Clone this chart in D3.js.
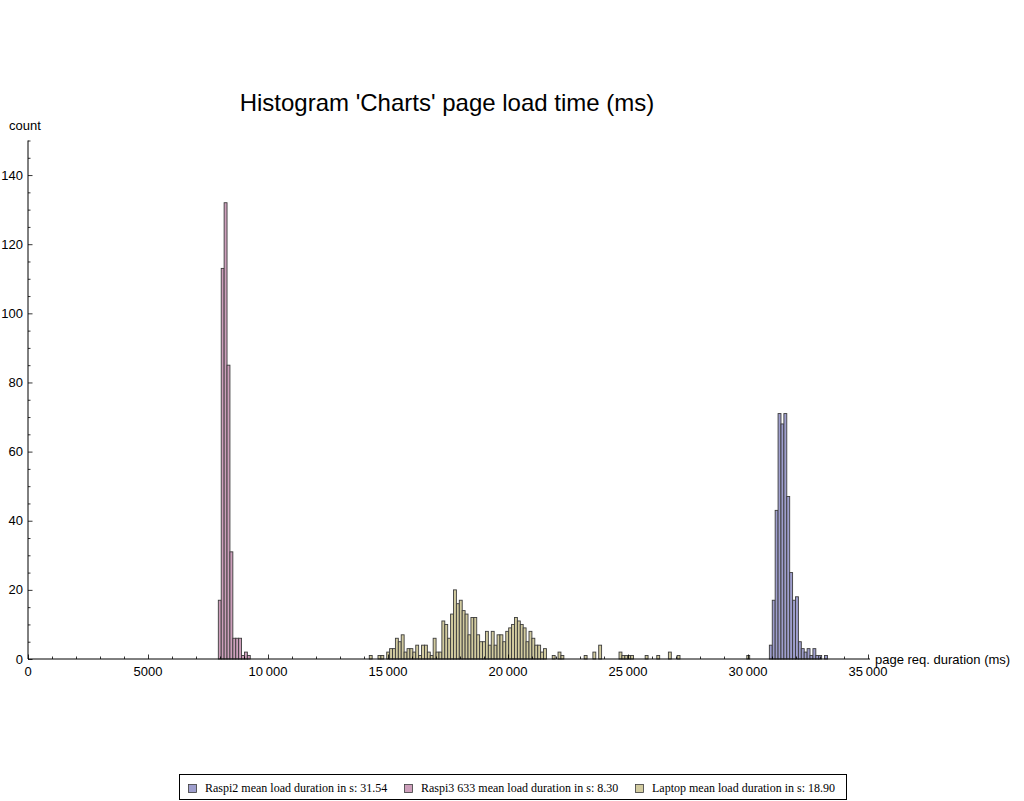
<!DOCTYPE html>
<html>
<head>
<meta charset="utf-8">
<script src="https://cdn.jsdelivr.net/npm/d3@7"></script>
<style>
  html, body { margin: 0; padding: 0; background: #ffffff; }
  #chart { width: 1024px; height: 801px; }
</style>
</head>
<body>
<div id="chart"></div>
<script>
// histogram of page load time, three devices, bins

const binWidth = 121; // ms

const seriesNames = [
  "Raspi2 mean load duration in s: 31.54",
  "Raspi3 633 mean load duration in s: 8.30",
  "Laptop mean load duration in s: 18.90"
];

const raspi2Start = 30890;
const raspi2Counts = [4, 17, 43, 71, 68, 71, 47, 25, 17, 18, 5, 3, 2, 3, 1, 3, 1, 1, 0, 1];

const raspi3Start = 7930;
const raspi3Counts = [17, 113, 132, 85, 31, 6, 6, 6, 1, 2, 1];

const laptopStart = 14220;
const laptopCounts = [
  1, 0, 0, 1, 1, 0, 2, 3, 3, 6,
  5, 7, 2, 3, 3, 2, 4, 1, 4, 4,
  2, 1, 6, 2, 2, 11, 10, 6, 13, 20,
  16, 17, 14, 13, 7, 12, 12, 7, 5, 5,
  8, 4, 8, 4, 7, 7, 5, 8, 9, 10,
  12, 11, 10, 9, 5, 8, 6, 4, 4, 2,
  3, 0, 0, 1, 0, 2, 1, 0, 0, 0,
  0, 0, 0, 0, 1, 0, 0, 2, 0, 4,
  0, 0, 0, 0, 0, 0, 2, 1, 1, 1,
  1, 0, 0, 0, 0, 1, 0, 0, 0, 1,
  0, 0, 0, 2, 0, 0, 1, 0, 0, 0,
  0, 0, 0, 0, 0, 0, 0, 0, 0, 0,
  0, 0, 0, 0, 0, 0, 0, 0, 0, 0,
  1
];

const xTickValues = [0, 5000, 10000, 15000, 20000, 25000, 30000, 35000];
const xTickLabels = ["0", "5000", "10\u2009000", "15\u2009000", "20\u2009000", "25\u2009000", "30\u2009000", "35\u2009000"];
const yTickValues = [0, 20, 40, 60, 80, 100, 120, 140];

const titleText = "Histogram 'Charts' page load time (ms)";
const xAxisLabel = "page req. duration (ms)";
const yAxisLabel = "count";

const colors = ["#9e9ecd", "#cd9fbb", "#d2cb9f"];
const edgeColor = "#3c3c3c";
const sansFont = "'Liberation Sans', Arial, sans-serif";
const serifFont = "'Liberation Serif', 'Times New Roman', serif";

const width = 1024, height = 801;

const svg = d3.select("#chart")
  .append("svg")
  .attr("width", width)
  .attr("height", height)
  .attr("viewBox", `0 0 ${width} ${height}`);

const x = d3.scaleLinear().domain([0, 35000]).range([28, 868]);
const y = d3.scaleLinear().domain([0, 150]).range([659, 140.5]);

function toBins(start, counts, idx) {
  return counts
    .map((c, i) => ({ x0: start + i * binWidth, x1: start + (i + 1) * binWidth, count: c, s: idx }))
    .filter(d => d.count > 0);
}

const allBins = [
  ...toBins(raspi2Start, raspi2Counts, 0),
  ...toBins(raspi3Start, raspi3Counts, 1),
  ...toBins(laptopStart, laptopCounts, 2)
];

// bars
svg.append("g")
  .selectAll("rect")
  .data(allBins)
  .join("rect")
  .attr("x", d => x(d.x0))
  .attr("y", d => y(d.count))
  .attr("width", d => x(d.x1) - x(d.x0))
  .attr("height", d => y(0) - y(d.count))
  .attr("fill", d => colors[d.s])
  .attr("stroke", edgeColor)
  .attr("stroke-width", 0.9);

// axes (ticks point inward like the original)
const xMinor = d3.range(0, 35001, 1000).filter(v => v % 5000 !== 0);
const yMinor = d3.range(0, 151, 5).filter(v => v % 20 !== 0);

const xAxisG = svg.append("g").attr("transform", `translate(0,${y(0)})`);
xAxisG.call(d3.axisTop(x).tickValues(xMinor).tickSize(2.5).tickFormat(""));
xAxisG.select(".domain").remove();
const xMajorG = svg.append("g").attr("transform", `translate(0,${y(0)})`);
xMajorG.call(d3.axisTop(x).tickValues(xTickValues).tickSize(4.5).tickFormat(""));
xMajorG.select(".domain").remove();

const yAxisG = svg.append("g").attr("transform", `translate(${x(0)},0)`);
yAxisG.call(d3.axisRight(y).tickValues(yMinor).tickSize(2.5).tickFormat(""));
yAxisG.select(".domain").remove();
const yMajorG = svg.append("g").attr("transform", `translate(${x(0)},0)`);
yMajorG.call(d3.axisRight(y).tickValues(yTickValues).tickSize(4.5).tickFormat(""));
yMajorG.select(".domain").remove();

svg.selectAll(".tick line").attr("stroke", "#000").attr("stroke-width", 0.8);

// axis lines
svg.append("line")
  .attr("x1", x(0)).attr("x2", x(35000) + 2)
  .attr("y1", y(0)).attr("y2", y(0))
  .attr("stroke", "#000").attr("stroke-width", 1);
svg.append("line")
  .attr("x1", x(0)).attr("x2", x(0))
  .attr("y1", y(0)).attr("y2", y(150))
  .attr("stroke", "#000").attr("stroke-width", 1);

// tick labels
svg.append("g")
  .selectAll("text")
  .data(xTickValues)
  .join("text")
  .attr("x", d => x(d))
  .attr("y", y(0) + 17)
  .attr("text-anchor", "middle")
  .attr("font-family", sansFont)
  .attr("font-size", 13)
  .text((d, i) => xTickLabels[i]);

svg.append("g")
  .selectAll("text")
  .data(yTickValues)
  .join("text")
  .attr("x", x(0) - 5)
  .attr("y", d => y(d) + 4.5)
  .attr("text-anchor", "end")
  .attr("font-family", sansFont)
  .attr("font-size", 13)
  .text(d => d);

// axis labels
svg.append("text")
  .attr("x", 875)
  .attr("y", 664)
  .attr("font-family", sansFont)
  .attr("font-size", 13)
  .text(xAxisLabel);

svg.append("text")
  .attr("x", 9)
  .attr("y", 130)
  .attr("font-family", sansFont)
  .attr("font-size", 13)
  .text(yAxisLabel);

// title
svg.append("text")
  .attr("x", 447)
  .attr("y", 111)
  .attr("text-anchor", "middle")
  .attr("font-family", sansFont)
  .attr("font-size", 24)
  .text(titleText);

// legend
const legend = svg.append("g");
legend.append("rect")
  .attr("x", 179.5).attr("y", 774.5)
  .attr("width", 667).attr("height", 25)
  .attr("fill", "#fff")
  .attr("stroke", "#000")
  .attr("stroke-width", 1);

const legendX = [188, 404, 635];
seriesNames.forEach((name, i) => {
  legend.append("rect")
    .attr("x", legendX[i] + 0.5).attr("y", 784.5)
    .attr("width", 8).attr("height", 8)
    .attr("fill", colors[i])
    .attr("stroke", edgeColor)
    .attr("stroke-width", 0.8);
  legend.append("text")
    .attr("x", legendX[i] + 17)
    .attr("y", 792)
    .attr("font-family", serifFont)
    .attr("font-size", 12)
    .text(name);
});
</script>
</body>
</html>
